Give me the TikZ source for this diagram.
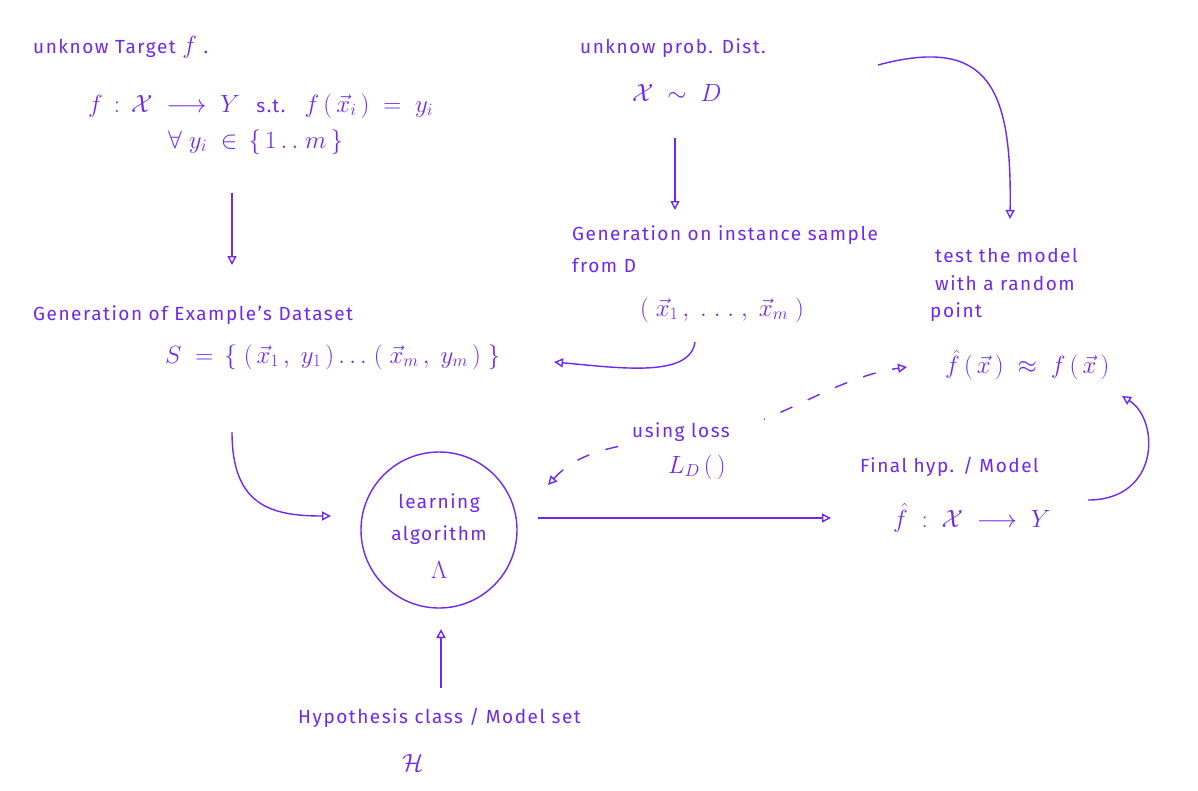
\documentclass[tikz,border=0pt]{standalone}
\usepackage{amsmath,amssymb}
\usepackage{fontspec}
\setmainfont{Fira Sans}[LetterSpace=8]
\usetikzlibrary{arrows.meta}
\definecolor{ink}{RGB}{112,40,235}
\begin{document}
\begin{tikzpicture}[x=1pt,y=-1pt,
  every node/.style={text=ink, font=\fontsize{19}{23}\selectfont},
  mth/.style={font=\fontsize{24}{28}\selectfont},
  lbl/.style={anchor=west, inner sep=0pt},
  ctr/.style={anchor=center, inner sep=0pt},
  con/.style={draw=ink, line width=1.4pt, -{Triangle[open,length=9pt,width=9pt]}},
  dashcon/.style={draw=ink, line width=1.4pt, dash pattern=on 13pt off 17pt,
    {Triangle[open,length=9pt,width=9pt]}-{Triangle[open,length=9pt,width=9pt]}}]
\useasboundingbox (0,0) rectangle (1198,790);
\fill[white] (0,0) rectangle (1198,790);

% top left
\node[lbl] (t1) at (33,47) {unknow Target {\fontsize{24}{28}\selectfont$f$} .};
\node[lbl, mth] (t2) at (88,106) {$f \,:\, \mathcal{X} \;\longrightarrow\; Y$ \ {\fontsize{19}{23}\selectfont s.t.} \ $f\,(\,\vec{x}_i\,) \;=\; y_i$};
\node[lbl, mth] (t3) at (168,142) {$\forall\; y_i \;\in\, \{\,1\,.\,.\;m\,\}$};
% top middle
\node[lbl] (p1) at (580,48) {unknow prob. Dist.};
\node[lbl, mth] (p2) at (632,93) {$\mathcal{X} \;\sim\; D$};
% generation of instances
\node[lbl] (g1) at (572,235) {Generation on instance sample};
\node[lbl] (g2) at (572,265) {from D};
\node[lbl, mth] (g3) at (640,310) {$(\;\vec{x}_1\,,\;.\;.\;.\;,\;\vec{x}_m\;)$};
% dataset
\node[lbl] (d1) at (33,315) {Generation of Example's Dataset};
\node[lbl, mth] (d2) at (165,357) {$S \;=\, \{\;(\,\vec{x}_1\,,\; y_1\,)\,.\,.\,.\;(\;\vec{x}_m\,,\; y_m\,)\;\}$};
% test
\node[lbl] (e1) at (935,255) {test the model};
\node[lbl] (e2) at (935,283) {with a random};
\node[lbl] (e3) at (930,312) {point};
\node[lbl, mth] (e4) at (945,365) {$\hat{f}\,(\,\vec{x}\,) \;\approx\; f\,(\,\vec{x}\,)$};
% algorithm
\node[draw=ink, line width=1.4pt, circle, minimum size=156pt, inner sep=0pt] (alg) at (439,530) {};
\node[ctr] (a1) at (439,503) {learning};
\node[ctr] (a2) at (439,535) {algorithm};
\node[ctr, mth] (a3) at (439,570) {$\Lambda$};
% hypothesis
\node[lbl] (h1) at (298,718) {Hypothesis class / Model set};
\node[lbl, mth] (h2) at (402,763) {$\mathcal{H}$};
% final
\node[lbl] (f1) at (860,467) {Final hyp. / Model};
\node[lbl, mth] (f2) at (893,518) {$\hat{f} \;:\; \mathcal{X} \;\longrightarrow\; Y$};

% coordinates
\coordinate (c1a) at (232,193);
\coordinate (c1b) at (232,265);
\coordinate (c2a) at (232,432);
\coordinate (c2b) at (331,516);
\coordinate (c3a) at (675,138);
\coordinate (c3b) at (675,210);
\coordinate (c4a) at (878,65);
\coordinate (c4b) at (1010,219);
\coordinate (c5a) at (695,342);
\coordinate (c5b) at (554,362);
\coordinate (c6a) at (548,485);
\coordinate (c6m) at (700,436);
\coordinate (c6b) at (907,367);
\coordinate (c7a) at (538,518);
\coordinate (c7b) at (831,518);
\coordinate (c8a) at (1088,500);
\coordinate (c8b) at (1122,396);
\coordinate (c9a) at (441,688);
\coordinate (c9b) at (441,629);

\draw[con] (c1a) -- (c1b);
\draw[con] (c2a) .. controls (232,505) and (270,516) .. (c2b);
\draw[con] (c3a) -- (c3b);
\draw[con] (c4a) .. controls (990,35) and (1012,90) .. (c4b);
\draw[con] (c5a) .. controls (690,378) and (620,368) .. (c5b);
\draw[dashcon] (c6a) .. controls (580,450) and (620,443) .. (c6m) .. controls (770,430) and (830,378) .. (c6b);
\node[lbl, fill=white, inner sep=0pt, minimum height=34pt] (u1) at (632,432) {\hbox to 132pt{using loss\hfil}};
\node[lbl, mth] (u2) at (668,467) {$L_D\,(\,)$};
\draw[con] (c7a) -- (c7b);
\draw[con] (c8a) .. controls (1160,500) and (1160,420) .. (c8b);
\draw[con] (c9a) -- (c9b);
\end{tikzpicture}
\end{document}
